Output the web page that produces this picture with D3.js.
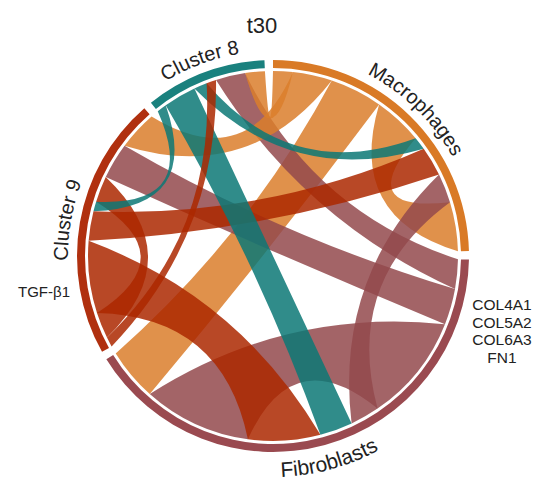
<!DOCTYPE html>
<html>
<head>
<meta charset="utf-8">
<script src="https://cdn.jsdelivr.net/npm/d3@7"></script>
<style>
  body { margin: 0; background: #fff; }
  text { font-family: "Liberation Sans", Arial, sans-serif; fill: #222; }
</style>
</head>
<body>
<svg id="chart" width="537" height="484"></svg>
<script>
// ---- data ----
const title = "t30";
const groups = ["Macrophages", "Fibroblasts", "Cluster 9", "Cluster 8"];
// links: source group index -> target group index, with strength
const linkSource = [0, 0, 0, 0, 3, 2, 1, 1, 1, 1, 3, 2, 2, 2, 3];
const linkTarget = [3, 2, 1, 0, 0, 0, 0, 3, 2, 1, 1, 1, 3, 2, 2];
const linkValue  = [6, 12, 16, 15, 4, 9, 9, 9, 11, 33, 10, 22, 3, 8, 3];
// clockwise order of link ends inside each group (a self link appears twice)
const sectorOrder = [
  [0, 1, 2, 3, 4, 5, 6, 3],
  [7, 8, 9, 6, 10, 11, 9, 2],
  [12, 13, 11, 5, 14, 13, 8, 1],
  [14, 10, 4, 12, 7, 0]
];
const leftGenes = ["TGF-β1"];
const rightGenes = ["COL4A1", "COL5A2", "COL6A3", "FN1"];

// ---- styles ----
const arcColors = ["#d97a26", "#9a4a50", "#b0300f", "#1a817e"];
const linkColors = ["#db7e2c", "#93494c", "#ac2800", "#0c7876"];
const linkOpacity = 0.85;

// ---- layout ----
const cx = 273, cy = 256;
const rOuter = 196, rInner = 188, rLink = 185;
const gap = 2.5 * Math.PI / 180;
const bend = 0.5;
const halfPi = Math.PI / 2;

const totals = sectorOrder.map(o => d3.sum(o, i => linkValue[i]));
const grand = d3.sum(totals);
const ang = d3.scaleLinear().domain([0, grand]).range([0, 2 * Math.PI - groups.length * gap]);

const ends = linkValue.map(() => []);
const groupArcs = [];
let cursor = 0;
sectorOrder.forEach((order, g) => {
  const start = ang(cursor) + g * gap;
  let acc = cursor;
  order.forEach(i => {
    const a0 = ang(acc) + g * gap;
    acc += linkValue[i];
    ends[i].push([a0, ang(acc) + g * gap]);
  });
  groupArcs.push({ index: g, startAngle: start, endAngle: ang(acc) + g * gap });
  cursor = acc;
});

function pt(a, r) { return [r * Math.sin(a), -r * Math.cos(a)]; }
function ctrl(a, b) {
  const p = pt(a, rLink), q = pt(b, rLink);
  return [(p[0] + q[0]) / 2 * bend, (p[1] + q[1]) / 2 * bend];
}
function ribbonPath([s0, s1], [t0, t1]) {
  const p = d3.path();
  const S0 = pt(s0, rLink), T0 = pt(t0, rLink);
  p.moveTo(S0[0], S0[1]);
  p.arc(0, 0, rLink, s0 - halfPi, s1 - halfPi);
  let c = ctrl(s1, t0);
  p.quadraticCurveTo(c[0], c[1], T0[0], T0[1]);
  p.arc(0, 0, rLink, t0 - halfPi, t1 - halfPi);
  c = ctrl(t1, s0);
  p.quadraticCurveTo(c[0], c[1], S0[0], S0[1]);
  p.closePath();
  return p.toString();
}

// ---- drawing ----
const svg = d3.select("#chart");
const g = svg.append("g").attr("transform", `translate(${cx},${cy})`);

const drawOrder = [9, 2, 11, 8, 7, 3, 1, 0, 6, 5, 13, 10, 4, 14, 12];
g.append("g").selectAll("path")
  .data(drawOrder)
  .join("path")
  .attr("d", i => ribbonPath(ends[i][0], ends[i][1]))
  .attr("fill", i => linkColors[linkSource[i]])
  .attr("fill-opacity", linkOpacity);

const arc = d3.arc().innerRadius(rInner).outerRadius(rOuter);
g.append("g").selectAll("path")
  .data(groupArcs)
  .join("path")
  .attr("d", arc)
  .attr("fill", d => arcColors[d.index]);

// group labels along the circle
const defs = svg.append("defs");
groupArcs.forEach(d => {
  const m = (d.startAngle + d.endAngle) / 2;
  const flip = m > halfPi && m < 3 * halfPi;
  const p = d3.path();
  if (flip) {
    const r = 221;
    const s = pt(m + halfPi, r);
    p.moveTo(s[0], s[1]);
    p.arc(0, 0, r, m, m - Math.PI, true);
  } else {
    const r = 205;
    const s = pt(m - halfPi, r);
    p.moveTo(s[0], s[1]);
    p.arc(0, 0, r, m - Math.PI, m);
  }
  defs.append("path").attr("id", "lab" + d.index).attr("d", p.toString());
});
g.append("g").selectAll("text")
  .data(groupArcs)
  .join("text")
  .attr("font-size", d => (d.startAngle + d.endAngle) / 2 > halfPi && (d.startAngle + d.endAngle) / 2 < 3 * halfPi ? 21 : 20)
  .append("textPath")
  .attr("href", d => "#lab" + d.index)
  .attr("startOffset", "50%")
  .attr("text-anchor", "middle")
  .text(d => groups[d.index]);

svg.append("text")
  .attr("x", 262).attr("y", 33)
  .attr("text-anchor", "middle")
  .attr("font-size", 22)
  .text(title);

svg.append("g").selectAll("text")
  .data(leftGenes)
  .join("text")
  .attr("x", 44).attr("y", (d, i) => 297 + i * 17.7)
  .attr("text-anchor", "middle")
  .attr("font-size", 15)
  .text(d => d);

svg.append("g").selectAll("text")
  .data(rightGenes)
  .join("text")
  .attr("x", 502).attr("y", (d, i) => 310 + i * 17.7)
  .attr("text-anchor", "middle")
  .attr("font-size", 15.5)
  .text(d => d);
</script>
</body>
</html>
